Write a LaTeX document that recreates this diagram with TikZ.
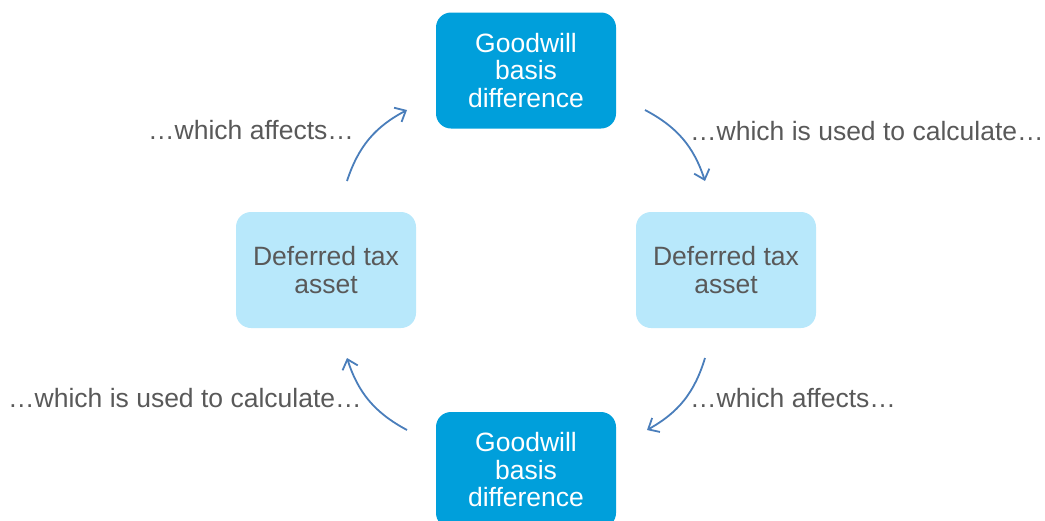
\documentclass[tikz,border=0pt]{standalone}
\usepackage{fontspec}
\setmainfont{Liberation Sans}
\usetikzlibrary{arrows.meta,positioning}
\definecolor{goodwillblue}{RGB}{0,159,219}
\definecolor{taxblue}{RGB}{184,232,251}
\definecolor{labelgray}{RGB}{89,89,89}
\definecolor{arrowblue}{RGB}{74,126,187}

\begin{document}
\begin{tikzpicture}[x=1pt, y=-1pt,
    gwbox/.style={rounded corners=15pt, fill=goodwillblue, text=white, minimum width=180pt, minimum height=116pt, align=center, font=\fontsize{26.5}{27.5}\selectfont},
    dtbox/.style={rounded corners=15pt, fill=taxblue, text=labelgray, minimum width=180pt, minimum height=116pt, align=center, font=\fontsize{26.5}{28}\selectfont},
    steptext/.style={text=labelgray, font=\fontsize{26.5}{28}\selectfont, inner sep=0pt},
    cyclearrow/.style={draw=arrowblue, line width=1.8pt, -{Straight Barb[length=9pt,width=16pt]}, bend left=22}]
    \useasboundingbox (0,0) rectangle (1045,520);
    \clip (0,0) rectangle (1045,520);

    % Boxes
    \node[gwbox] (gwtop) at (526,70.5) {Goodwill\\basis\\difference};
    \node[dtbox] (dtright) at (726,270) {Deferred tax\\asset};
    \node[dtbox] (dtleft) at (326,270) {Deferred tax\\asset};
    \node[gwbox] (gwbottom) at (526,470) {Goodwill\\basis\\difference};

    % Arrow ends
    \coordinate (a1s) at (347,181);
    \coordinate (a1e) at (407,110);
    \coordinate (a2s) at (645,110);
    \coordinate (a2e) at (705,181);
    \coordinate (a3s) at (705,358);
    \coordinate (a3e) at (647,430);
    \coordinate (a4s) at (407,430);
    \coordinate (a4e) at (347,358);

    \draw[cyclearrow] (a1s) to (a1e);
    \draw[cyclearrow] (a2s) to (a2e);
    \draw[cyclearrow] (a3s) to (a3e);
    \draw[cyclearrow] (a4s) to (a4e);

    % Labels
    \node[steptext, anchor=west] (lbl1) at (148,130) {…which affects…};
    \node[steptext, anchor=west] (lbl2) at (690,131) {…which is used to calculate…};
    \node[steptext, anchor=west] (lbl3) at (690,398) {…which affects…};
    \node[steptext, anchor=west] (lbl4) at (8,398) {…which is used to calculate…};
\end{tikzpicture}
\end{document}
